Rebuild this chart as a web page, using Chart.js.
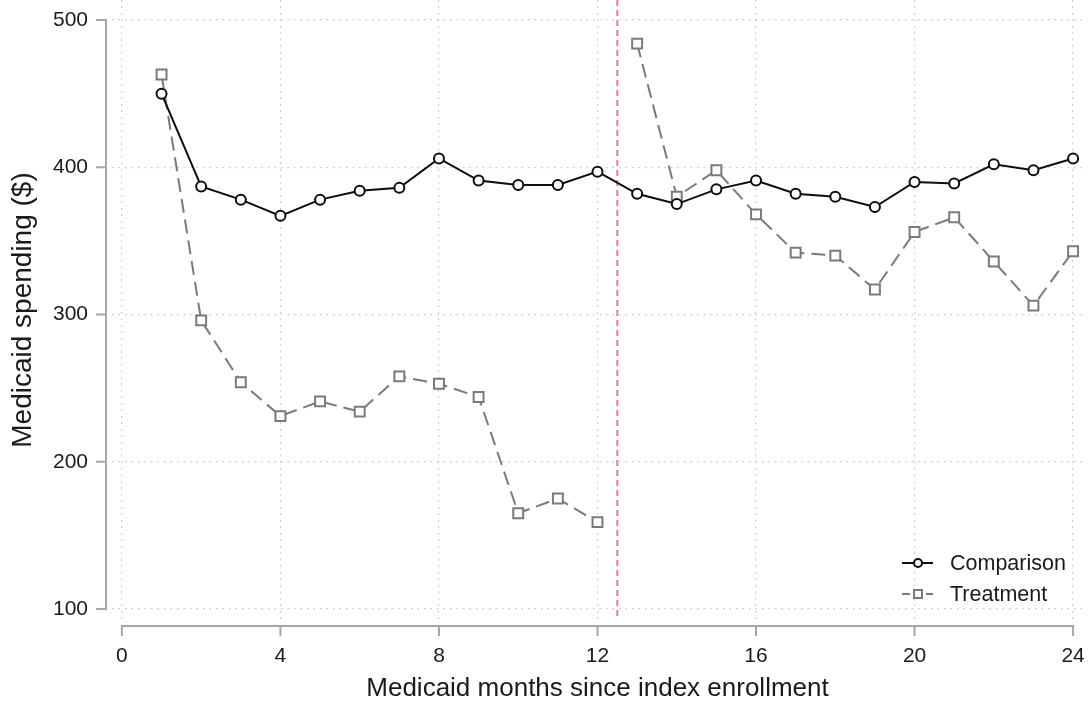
<!DOCTYPE html>
<html>
<head>
<meta charset="utf-8">
<script src="https://cdn.jsdelivr.net/npm/chart.js@4.4.0/dist/chart.umd.min.js"></script>
<style>
    html, body { margin: 0; padding: 0; background: #fff; }
    #wrap { width: 1089px; height: 704px; position: relative; }
</style>
</head>
<body>
<div id="wrap"><canvas id="chart" width="1089" height="704"></canvas></div>
<script>
// Data
const months = [1, 2, 3, 4, 5, 6, 7, 8, 9, 10, 11, 12, 13, 14, 15, 16, 17, 18, 19, 20, 21, 22, 23, 24];
const comparison = [450, 387, 378, 367, 378, 384, 386, 406, 391, 388, 388, 397, 382, 375, 385, 391, 382, 380, 373, 390, 389, 402, 398, 406];
const treatment = [463, 296, 254, 231, 241, 234, 258, 253, 244, 165, 175, 159, 484, 380, 398, 368, 342, 340, 317, 356, 366, 336, 306, 343];
const xTicks = [0, 4, 8, 12, 16, 20, 24];
const yTicks = [100, 200, 300, 400, 500];
const cutoff = 12.5;

const FONT = '"Liberation Sans", Arial, sans-serif';
const TEXT = '#1a1a1a';
const AXIS = '#a6a6a6';
const GRID = '#c4c4c4';
const TREAT = '#7a7a7a';

function toPoints(values) {
    return months.map((m, i) => ({ x: m, y: values[i] }));
}

// Stata-style axes drawn off the plot region, plus the cutoff line and legend
const decorPlugin = {
    id: 'decor',
    afterDatasetsDraw(chart) {
        const { ctx, chartArea, scales } = chart;
        const xs = scales.x, ys = scales.y;
        ctx.save();
        ctx.strokeStyle = AXIS;
        ctx.lineWidth = 2;

        // y axis
        const ax = chartArea.left - 6;
        ctx.beginPath();
        ctx.moveTo(ax, ys.getPixelForValue(yTicks[0]) + 1);
        ctx.lineTo(ax, ys.getPixelForValue(yTicks[yTicks.length - 1]) - 1);
        ctx.stroke();
        yTicks.forEach(v => {
            const py = ys.getPixelForValue(v);
            ctx.beginPath();
            ctx.moveTo(ax, py);
            ctx.lineTo(ax - 10, py);
            ctx.stroke();
        });

        // x axis
        const ay = chartArea.bottom + 6;
        ctx.beginPath();
        ctx.moveTo(xs.getPixelForValue(xTicks[0]) - 1, ay);
        ctx.lineTo(xs.getPixelForValue(xTicks[xTicks.length - 1]) + 1, ay);
        ctx.stroke();
        xTicks.forEach(v => {
            const px = xs.getPixelForValue(v);
            ctx.beginPath();
            ctx.moveTo(px, ay);
            ctx.lineTo(px, ay + 10);
            ctx.stroke();
        });

        // legend
        const lx = 902, rows = [563, 594];
        chart.data.datasets.forEach((ds, i) => {
            const y = rows[i];
            ctx.strokeStyle = ds.borderColor;
            ctx.lineWidth = 2;
            ctx.setLineDash(ds.borderDash ? [8, 4] : []);
            ctx.beginPath();
            ctx.moveTo(lx, y);
            ctx.lineTo(lx + 31, y);
            ctx.stroke();
            ctx.setLineDash([]);
            ctx.fillStyle = '#fff';
            ctx.beginPath();
            if (ds.pointStyle === 'rect') {
                ctx.rect(lx + 12, y - 4, 8, 8);
            } else {
                ctx.arc(lx + 16, y, 4, 0, Math.PI * 2);
            }
            ctx.fill();
            ctx.stroke();
            ctx.fillStyle = TEXT;
            ctx.font = '21.5px ' + FONT;
            ctx.textBaseline = 'middle';
            ctx.fillText(ds.label, lx + 48, y + 1);
        });
        ctx.restore();
    },
    beforeDatasetsDraw(chart) {
        const { ctx, chartArea, scales } = chart;
        const cx = scales.x.getPixelForValue(cutoff);
        ctx.save();
        ctx.strokeStyle = '#d77fae';
        ctx.lineWidth = 2;
        ctx.setLineDash([6, 4]);
        ctx.beginPath();
        ctx.moveTo(cx, chartArea.top);
        ctx.lineTo(cx, chartArea.bottom - 4);
        ctx.stroke();
        ctx.restore();
    }
};

new Chart(document.getElementById('chart'), {
    type: 'line',
    data: {
        datasets: [
            {
                label: 'Comparison',
                data: toPoints(comparison),
                borderColor: '#0d0d0d',
                backgroundColor: '#fff',
                borderWidth: 2,
                pointStyle: 'circle',
                pointRadius: 5,
                pointBorderWidth: 2,
                tension: 0
            },
            {
                label: 'Treatment',
                data: toPoints(treatment),
                borderColor: TREAT,
                backgroundColor: '#fff',
                borderWidth: 2,
                borderDash: [14, 7],
                pointStyle: 'rect',
                pointRadius: 7,
                pointBorderWidth: 2,
                tension: 0,
                segment: {
                    borderColor: c => (c.p0.parsed.x < cutoff && c.p1.parsed.x > cutoff) ? 'transparent' : TREAT
                }
            }
        ]
    },
    options: {
        responsive: false,
        animation: false,
        events: [],
        layout: { autoPadding: false, padding: { top: 0, right: 6, left: 0, bottom: 0 } },
        plugins: {
            legend: { display: false },
            tooltip: { enabled: false }
        },
        scales: {
            x: {
                type: 'linear',
                min: -0.25,
                max: 24.25,
                afterBuildTicks: s => { s.ticks = xTicks.map(v => ({ value: v })); },
                afterFit: s => { s.height = 84; s.paddingLeft = 0; s.paddingRight = 0; },
                border: { display: false, dash: [1.5, 5] },
                grid: { color: GRID, lineWidth: 1.2, drawTicks: false },
                ticks: { color: TEXT, font: { family: FONT, size: 21 }, padding: 24 },
                title: {
                    display: true,
                    text: 'Medicaid months since index enrollment',
                    color: TEXT,
                    font: { family: FONT, size: 26 },
                    padding: { top: 0, bottom: 0 }
                }
            },
            y: {
                min: 92.5,
                max: 513.6,
                afterBuildTicks: s => { s.ticks = yTicks.map(v => ({ value: v })); },
                afterFit: s => { s.width = 112; s.paddingTop = 0; s.paddingBottom = 0; },
                border: { display: false, dash: [1.5, 5] },
                grid: { color: GRID, lineWidth: 1.2, drawTicks: false },
                ticks: { color: TEXT, font: { family: FONT, size: 21 }, padding: 24 },
                title: {
                    display: true,
                    text: 'Medicaid spending ($)',
                    color: TEXT,
                    font: { family: FONT, size: 28 },
                    padding: { top: 6, bottom: 0 }
                }
            }
        }
    },
    plugins: [decorPlugin]
});
</script>
</body>
</html>
